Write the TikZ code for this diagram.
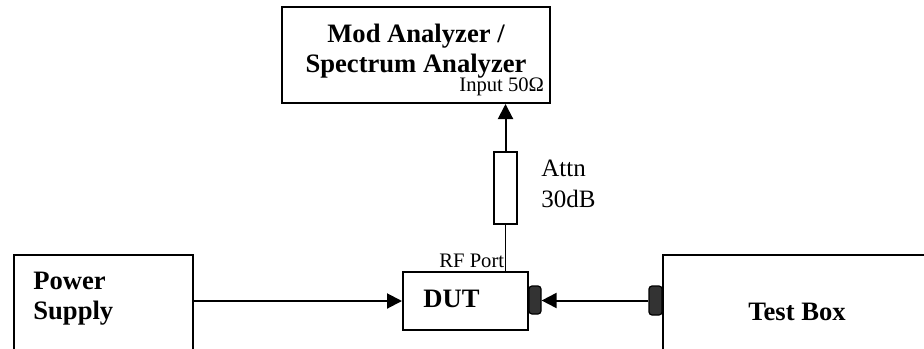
\documentclass[tikz,border=0pt]{standalone}
\usepackage{fontspec}
\setmainfont{Liberation Serif}
\usetikzlibrary{arrows.meta}

\begin{document}
\begin{tikzpicture}[x=0.5pt,y=-0.5pt,>={Triangle[length=7.5pt,width=7.5pt]},
    box/.style={draw,line width=1pt,inner sep=0pt},
    port/.style={draw,fill=black!80,line width=0.6pt,rounded corners=1.5pt,
        inner sep=0pt,minimum width=6pt,minimum height=14pt},
    big/.style={font=\fontsize{13.3}{15}\selectfont\bfseries,inner sep=0pt},
    small/.style={font=\fontsize{10.3}{12}\selectfont,inner sep=0pt}]
    \useasboundingbox (0,0) rectangle (924,348);
    \clip (0,0) rectangle (924,348);

    % analyser
    \node[box,minimum width=134pt,minimum height=48pt] (modan) at (416,55) {};
    \node[big,align=center,anchor=base] (modlbl) at (416,72)
        {Mod Analyzer /\\Spectrum Analyzer};
    \node[small,anchor=base west] (inlbl) at (459,91) {Input 50Ω};

    % attenuator
    \node[box,minimum width=11.5pt,minimum height=36pt] (attn) at (505.5,188) {};
    \node[font=\fontsize{12.5}{15.5}\selectfont,inner sep=0pt,align=left,
        anchor=base west] (attnlbl) at (541,207) {Attn\\30dB};

    % device
    \node[box,minimum width=62.5pt,minimum height=29pt] (dut) at (465.5,301) {};
    \node[big,anchor=base west] (dutlbl) at (423,307) {DUT};
    \node[small,anchor=base west] (rflbl) at (439,267) {RF Port};
    \node[port] (dutport) at (535,300) {};

    % supply and test box
    \node[box,anchor=north west,minimum width=89.5pt,minimum height=75pt] (psu) at (13,254) {};
    \node[big,align=left,anchor=base west] (psulbl) at (33,319) {Power\\Supply};
    \node[box,anchor=north west,minimum width=150pt,minimum height=75pt] (tbox) at (662,254) {};
    \node[big,anchor=base] (tblbl) at (797,320) {Test Box};
    \node[port,minimum width=6.5pt,minimum height=14.5pt] (tbport) at (655.5,300.5) {};

    \draw[line width=1pt,->] (psu.east |- dut.west) -- (dut.west);
    \draw[line width=1pt,->] (tbport.west) -- (tbport.west -| dutport.east);
    \draw[line width=0.7pt] (attn.south) -- (attn.south |- dut.north);
    \draw[line width=1pt,->] (attn.north) -- (attn.north |- modan.south);
\end{tikzpicture}
\end{document}
